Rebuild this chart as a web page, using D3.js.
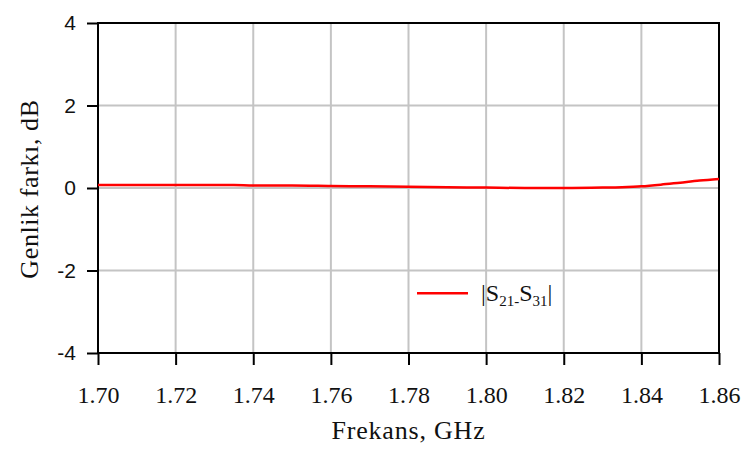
<!DOCTYPE html>
<html>
<head>
<meta charset="utf-8">
<script src="https://cdn.jsdelivr.net/npm/d3@7"></script>
<style>
  body { margin: 0; background: #fff; }
  text { fill: #111; }
</style>
</head>
<body>
<div id="chart"></div>
<script>
// data
const freqs = [1.70, 1.71, 1.72, 1.73, 1.735, 1.74, 1.75, 1.76, 1.77, 1.78, 1.79, 1.80, 1.81, 1.815, 1.82, 1.83, 1.835, 1.84, 1.845, 1.85, 1.855, 1.86];
const ampDiff = [0.07, 0.07, 0.07, 0.07, 0.07, 0.06, 0.06, 0.05, 0.04, 0.03, 0.02, 0.01, 0.0, 0.0, 0.0, 0.01, 0.02, 0.04, 0.08, 0.13, 0.18, 0.22];
const xTicks = [1.70, 1.72, 1.74, 1.76, 1.78, 1.80, 1.82, 1.84, 1.86];
const yTicks = [-4, -2, 0, 2, 4];
const seriesName = 'S21-S31';

const width = 751, height = 450;
const margin = { left: 98, right: 32, top: 23, bottom: 97 };
const serif = '"Liberation Serif", serif';

const svg = d3.select('#chart').append('svg')
  .attr('width', width).attr('height', height);

const x = d3.scaleLinear().domain([1.70, 1.86]).range([margin.left, width - margin.right]);
const y = d3.scaleLinear().domain([-4, 4]).range([height - margin.bottom, margin.top]);

// grid
svg.append('g').selectAll('line').data(xTicks.slice(1, -1)).enter().append('line')
  .attr('x1', d => x(d)).attr('x2', d => x(d))
  .attr('y1', y(4)).attr('y2', y(-4))
  .attr('stroke', '#c4c4c4').attr('stroke-width', 2);
svg.append('g').selectAll('line').data(yTicks.slice(1, -1)).enter().append('line')
  .attr('x1', x(1.70)).attr('x2', x(1.86))
  .attr('y1', d => y(d)).attr('y2', d => y(d))
  .attr('stroke', '#c4c4c4').attr('stroke-width', 2);

// frame
svg.append('rect')
  .attr('x', x(1.70)).attr('y', y(4))
  .attr('width', x(1.86) - x(1.70)).attr('height', y(-4) - y(4))
  .attr('fill', 'none').attr('stroke', '#000').attr('stroke-width', 2);

// axes
const xAxis = svg.append('g')
  .attr('transform', 'translate(0,' + y(-4) + ')')
  .call(d3.axisBottom(x).tickValues(xTicks).tickFormat(d3.format('.2f')).tickSizeOuter(0).tickSize(12).tickPadding(21));
xAxis.select('.domain').remove();
xAxis.selectAll('line').attr('stroke', '#000').attr('stroke-width', 2);
xAxis.selectAll('text')
  .attr('font-family', serif)
  .attr('font-size', 24).attr('fill', '#111');

const yAxis = svg.append('g')
  .attr('transform', 'translate(' + x(1.70) + ',0)')
  .call(d3.axisLeft(y).tickValues(yTicks).tickFormat(d => String(d)).tickSizeOuter(0).tickSize(11).tickPadding(11));
yAxis.select('.domain').remove();
yAxis.selectAll('line').attr('stroke', '#000').attr('stroke-width', 2);
yAxis.selectAll('text')
  .attr('font-family', '"Liberation Sans", Arial, sans-serif')
  .attr('font-size', 21).attr('fill', '#111');

// line
const line = d3.line().x((d, i) => x(freqs[i])).y(d => y(d)).curve(d3.curveMonotoneX);
svg.append('path').datum(ampDiff)
  .attr('d', line)
  .attr('fill', 'none').attr('stroke', '#ff0000').attr('stroke-width', 2.5);

// axis titles
svg.append('text')
  .attr('x', (x(1.70) + x(1.86)) / 2).attr('y', 439)
  .attr('text-anchor', 'middle')
  .attr('font-family', serif).attr('font-size', 26).attr('letter-spacing', 0.8)
  .text('Frekans, GHz');
svg.append('text')
  .attr('transform', 'translate(38,' + (y(0) + 1) + ') rotate(-90)')
  .attr('text-anchor', 'middle')
  .attr('font-family', serif).attr('font-size', 26).attr('letter-spacing', 0.6)
  .text('Genlik farkı, dB');

// legend
const leg = svg.append('g').attr('transform', 'translate(417,' + y(-2.55) + ')');
leg.append('line').attr('x1', 0).attr('x2', 51).attr('y1', 0).attr('y2', 0)
  .attr('stroke', '#ff0000').attr('stroke-width', 2.5);
const lt = leg.append('text').attr('x', 64).attr('y', 8)
  .attr('font-family', serif).attr('font-size', 24);
const parts = seriesName.split('-');
lt.append('tspan').text('|S');
lt.append('tspan').attr('font-size', 15).attr('dy', 5).text(parts[0].slice(1) + '-');
lt.append('tspan').attr('dy', -5).text('S');
lt.append('tspan').attr('font-size', 15).attr('dy', 5).text(parts[1].slice(1));
lt.append('tspan').attr('dy', -5).text('|');
</script>
</body>
</html>
